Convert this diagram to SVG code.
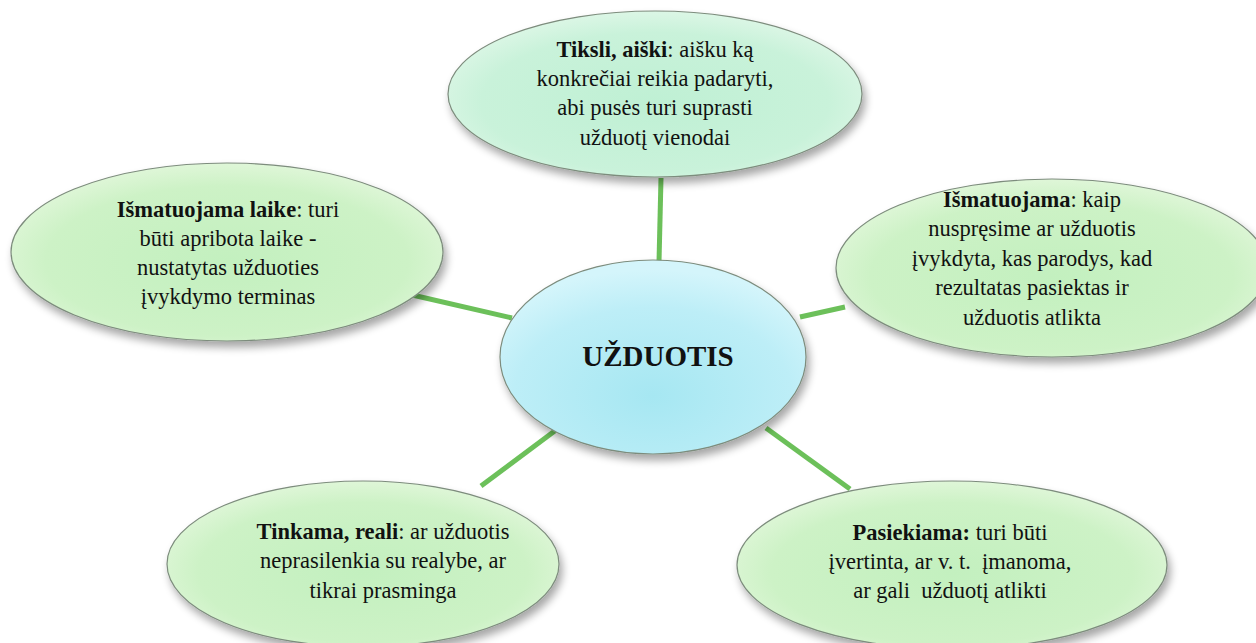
<svg xmlns="http://www.w3.org/2000/svg" width="1256" height="643" viewBox="0 0 1256 643">
<defs>
<radialGradient id="gGreen" cx="50%" cy="55%" r="60%">
<stop offset="0" stop-color="#c3f0bf"/>
<stop offset="0.7" stop-color="#cdf2c6"/>
<stop offset="1" stop-color="#e6f8df"/>
</radialGradient>
<radialGradient id="gMint" cx="50%" cy="55%" r="60%">
<stop offset="0" stop-color="#bff0d4"/>
<stop offset="0.7" stop-color="#c9f2da"/>
<stop offset="1" stop-color="#e3f8ea"/>
</radialGradient>
<radialGradient id="gCyan" cx="50%" cy="70%" r="65%">
<stop offset="0" stop-color="#a6e7f2"/>
<stop offset="0.7" stop-color="#bdeef7"/>
<stop offset="1" stop-color="#d4f5fb"/>
</radialGradient>
<filter id="shadow" x="-10%" y="-10%" width="125%" height="135%">
<feGaussianBlur in="SourceAlpha" stdDeviation="4"/>
<feOffset dx="3" dy="6" result="b"/>
<feComponentTransfer><feFuncA type="linear" slope="0.35"/></feComponentTransfer>
<feMerge><feMergeNode/><feMergeNode in="SourceGraphic"/></feMerge>
</filter>
</defs>
<style>
.node{stroke:#7d8c7d;stroke-width:1.2;filter:url(#shadow)}
.t{font-family:"Liberation Serif","DejaVu Serif",serif;font-size:22.5px;fill:#111;text-anchor:middle}
.b{font-weight:bold}
.c{stroke:#6cc05a;stroke-width:5;fill:none;stroke-linecap:butt}
</style>
<g id="connectors">
<line class="c" x1="661" y1="178" x2="659" y2="262"/>
<line class="c" x1="408" y1="294" x2="512" y2="318"/>
<line class="c" x1="800" y1="317" x2="845" y2="307"/>
<line class="c" x1="481" y1="486" x2="556" y2="430"/>
<line class="c" x1="766" y1="428" x2="850" y2="489"/>
</g>
<g id="node-top">
<ellipse class="node" cx="655" cy="94" rx="207" ry="83" fill="url(#gMint)"/>
<text class="t" x="655" y="57"><tspan class="b">Tiksli, aiški</tspan>: aišku ką</text>
<text class="t" x="655" y="86">konkrečiai reikia padaryti,</text>
<text class="t" x="655" y="115">abi pusės turi suprasti</text>
<text class="t" x="655" y="145">užduotį vienodai</text>
</g>
<g id="node-left">
<ellipse class="node" cx="227" cy="252" rx="216" ry="89" fill="url(#gGreen)"/>
<text class="t" x="228" y="217"><tspan class="b">Išmatuojama laike</tspan>: turi</text>
<text class="t" x="228" y="246">būti apribota laike -</text>
<text class="t" x="228" y="275">nustatytas užduoties</text>
<text class="t" x="228" y="304">įvykdymo terminas</text>
</g>
<g id="node-right">
<ellipse class="node" cx="1052" cy="268" rx="216" ry="89" fill="url(#gGreen)"/>
<text class="t" x="1032" y="207"><tspan class="b">Išmatuojama</tspan>: kaip</text>
<text class="t" x="1032" y="236">nuspręsime ar užduotis</text>
<text class="t" x="1032" y="266">įvykdyta, kas parodys, kad</text>
<text class="t" x="1032" y="295">rezultatas pasiektas ir</text>
<text class="t" x="1032" y="325">užduotis atlikta</text>
</g>
<g id="node-center">
<ellipse class="node" cx="653" cy="357" rx="153" ry="97" fill="url(#gCyan)"/>
<text class="t b" x="658" y="366" style="font-size:29px">UŽDUOTIS</text>
</g>
<g id="node-bottom-left">
<ellipse class="node" cx="363" cy="564" rx="196" ry="83" fill="url(#gGreen)"/>
<text class="t" x="383" y="539"><tspan class="b">Tinkama, reali</tspan>: ar užduotis</text>
<text class="t" x="383" y="568">neprasilenkia su realybe, ar</text>
<text class="t" x="383" y="598">tikrai prasminga</text>
</g>
<g id="node-bottom-right">
<ellipse class="node" cx="952" cy="565" rx="215" ry="84" fill="url(#gGreen)"/>
<text class="t" x="950" y="540"><tspan class="b">Pasiekiama:</tspan> turi būti</text>
<text class="t" x="950" y="569" xml:space="preserve">įvertinta, ar v. t.  įmanoma,</text>
<text class="t" x="950" y="598" xml:space="preserve">ar gali  užduotį atlikti</text>
</g>
</svg>
